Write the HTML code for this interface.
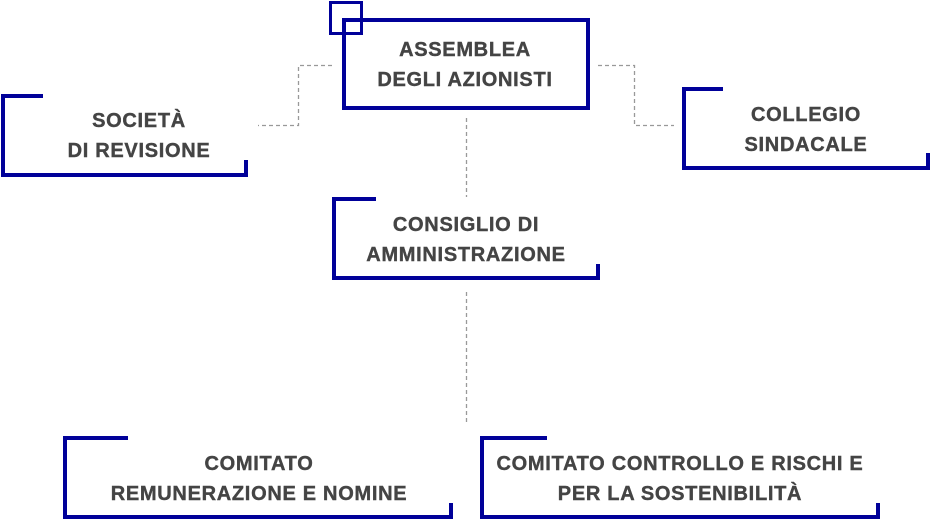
<!DOCTYPE html>
<html><head><meta charset="utf-8"><style>
html,body{margin:0;padding:0;background:#fff;}
body{width:931px;height:521px;position:relative;overflow:hidden;}
svg{position:absolute;left:0;top:0;}
.t{position:absolute;width:500px;text-align:center;font-family:"Liberation Sans",sans-serif;font-weight:bold;font-size:20px;letter-spacing:0.7px;color:#444;line-height:30px;white-space:nowrap;-webkit-text-stroke:0.4px #444;}
</style></head><body>
<svg width="931" height="521" viewBox="0 0 931 521">
<g fill="none" stroke="#999" stroke-width="1.3" stroke-dasharray="4 3">
<polyline points="332,65.5 298.5,65.5 298.5,125.5 258,125.5"/>
<polyline points="598,65.5 634.5,65.5 634.5,125.5 674,125.5"/>
<line x1="466.5" y1="118" x2="466.5" y2="197"/>
<line x1="466.5" y1="292" x2="466.5" y2="425"/>
</g>
<g fill="none" stroke="#000099" stroke-width="4">
<rect x="344" y="20" width="244" height="88"/>
<rect x="330.5" y="2.5" width="31" height="31" stroke-width="3"/>
<polyline points="43,96 3,96 3,175 246,175 246,160"/>
<polyline points="723,89 684,89 684,168 928,168 928,153"/>
<polyline points="376,199 334,199 334,278 598,278 598,264"/>
<polyline points="128,438 65,438 65,517 451,517 451,503"/>
<polyline points="547,438 482,438 482,517 878,517 878,503"/>
</g>
</svg>
<div class="t" style="left:215px;top:35px">ASSEMBLEA<br>DEGLI AZIONISTI</div>
<div class="t" style="left:-111px;top:106px">SOCIETÀ<br>DI REVISIONE</div>
<div class="t" style="left:556px;top:100px">COLLEGIO<br>SINDACALE</div>
<div class="t" style="left:216px;top:210px">CONSIGLIO DI<br>AMMINISTRAZIONE</div>
<div class="t" style="left:9px;top:449px">COMITATO<br>REMUNERAZIONE E NOMINE</div>
<div class="t" style="left:430px;top:449px">COMITATO CONTROLLO E RISCHI E<br>PER LA SOSTENIBILITÀ</div>
</body></html>
